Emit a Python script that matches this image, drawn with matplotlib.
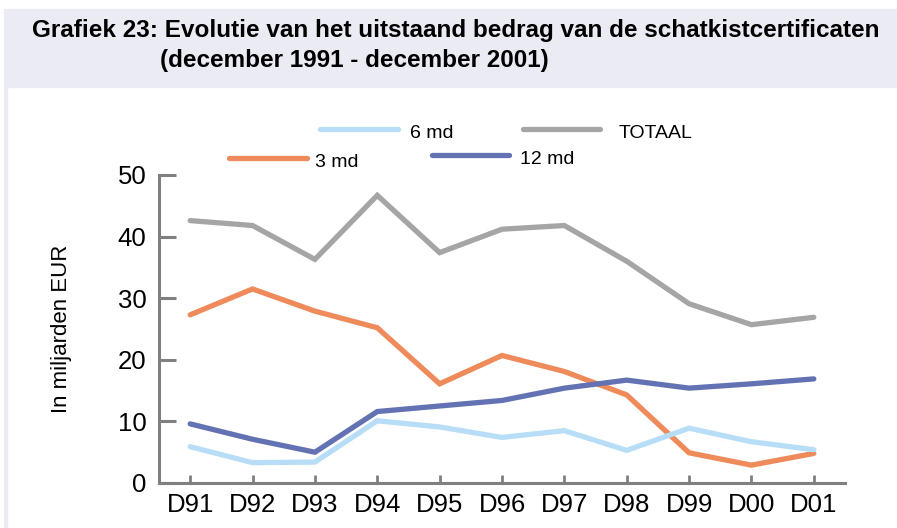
import matplotlib
matplotlib.use("Agg")
import matplotlib.pyplot as plt
from matplotlib.patches import Rectangle
from matplotlib.lines import Line2D

plt.rcParams['font.family'] = ['Liberation Sans', 'DejaVu Sans']

years = ["D91", "D92", "D93", "D94", "D95", "D96", "D97", "D98", "D99", "D00", "D01"]
totaal = [42.6, 41.8, 36.3, 46.7, 37.4, 41.2, 41.8, 36.0, 29.1, 25.7, 26.9]
md3 = [27.3, 31.5, 27.9, 25.2, 16.1, 20.7, 18.1, 14.3, 4.9, 2.9, 4.8]
md12 = [9.6, 7.1, 5.0, 11.6, 12.5, 13.4, 15.4, 16.7, 15.4, 16.1, 16.9]
md6 = [5.9, 3.3, 3.4, 10.1, 9.1, 7.4, 8.5, 5.3, 8.9, 6.7, 5.4]

c_tot = "#a5a5a5"
c_3 = "#ef8a5b"
c_12 = "#6372b3"
c_6 = "#b7def6"

W, H = 897, 528
fig = plt.figure(figsize=(W / 100, H / 100), dpi=100)

# title band and left border
fig.patches.append(Rectangle((4 / W, 1 - 87 / H), (W - 4) / W, 78 / H,
                             transform=fig.transFigure, color="#ebebf4", zorder=0))
fig.patches.append(Rectangle((4 / W, 0), 3 / W, 1 - 87 / H,
                             transform=fig.transFigure, color="#ebebf4", zorder=0))
fig.text(32 / W, 1 - 31 / H, "Grafiek 23: Evolutie van het uitstaand bedrag van de schatkistcertificaten",
         fontsize=17.5, fontweight="bold", va="center", ha="left")
fig.text(160 / W, 1 - 60 / H, "(december 1991 - december 2001)",
         fontsize=17.5, fontweight="bold", va="center", ha="left")

ax = fig.add_axes([159 / W, 1 - 483 / H, (845 - 159) / W, (483 - 175) / H])
x = range(len(years))
lw = 3.8
ax.plot(x, totaal, color=c_tot, lw=lw, solid_capstyle="round", solid_joinstyle="miter")
ax.plot(x, md3, color=c_3, lw=lw, solid_capstyle="round", solid_joinstyle="miter")
ax.plot(x, md12, color=c_12, lw=lw, solid_capstyle="round", solid_joinstyle="miter")
ax.plot(x, md6, color=c_6, lw=lw, solid_capstyle="round", solid_joinstyle="miter")

ax.set_xlim(-0.5, 10.5)
ax.set_ylim(0, 50)
ax.set_xticks(list(x))
ax.set_xticklabels(years)
ax.set_yticks([0, 10, 20, 30, 40, 50])
for s in ["top", "right"]:
    ax.spines[s].set_visible(False)
for s in ["left", "bottom"]:
    ax.spines[s].set_color("#808080")
    ax.spines[s].set_linewidth(2.2)
ax.tick_params(axis="y", direction="in", length=12, width=2.2, color="#808080",
               labelsize=18.5, pad=9)
ax.tick_params(axis="x", direction="in", length=6, width=2, color="#808080",
               labelsize=18.5, pad=7)
ax.set_ylabel("In miljarden EUR", fontsize=16, labelpad=33)
ax.patch.set_alpha(0)

# legend drawn by hand to follow the staggered layout
legend_items = [
    (320, 398, 129, c_6, 410, "6 md"),
    (523, 600, 129, c_tot, 619, "TOTAAL"),
    (229, 307, 158, c_3, 315, "3 md"),
    (432, 509, 155, c_12, 520, "12 md"),
]
for x0, x1, yy, col, tx, label in legend_items:
    fig.add_artist(Line2D([x0 / W, x1 / W], [1 - yy / H, 1 - yy / H], transform=fig.transFigure,
                          color=col, lw=lw, solid_capstyle="round"))
    fig.text(tx / W, 1 - (yy + 4) / H, label, fontsize=14, va="center", ha="left")

fig.savefig("out.png", dpi=100)
